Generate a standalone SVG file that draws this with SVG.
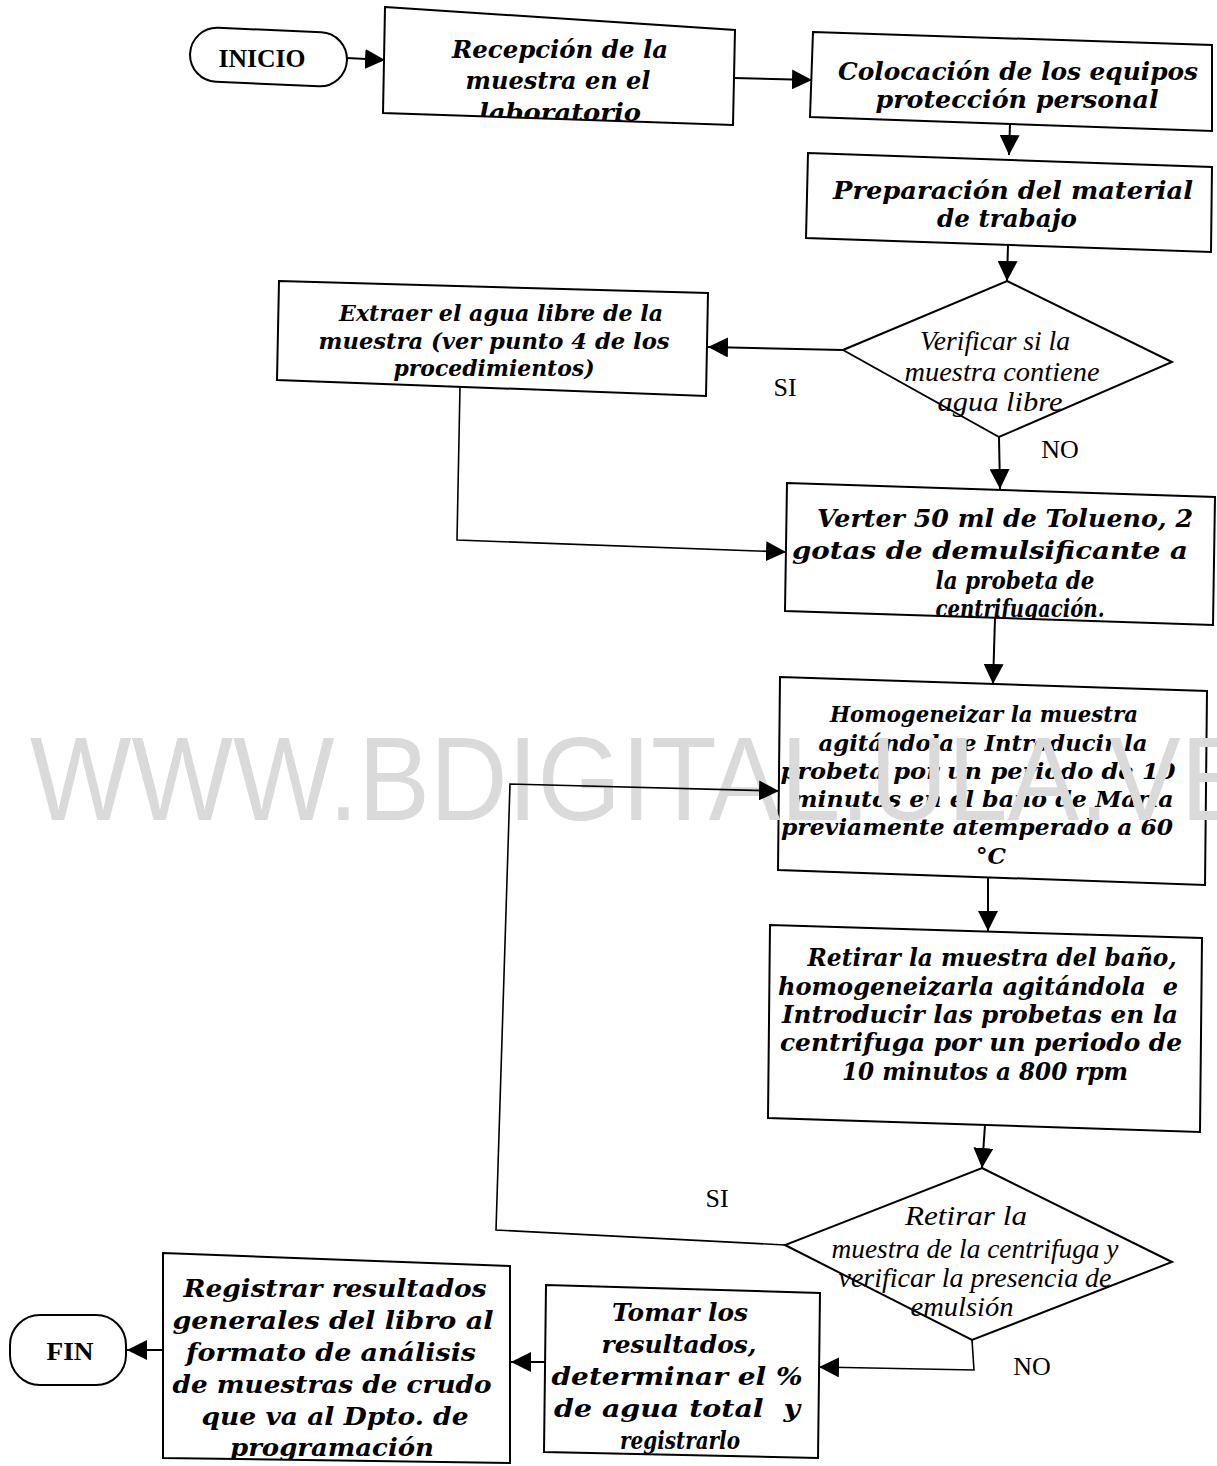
<svg xmlns="http://www.w3.org/2000/svg" width="1217" height="1466" viewBox="0 0 1217 1466">
<style>
.box{fill:#fff;stroke:#000;stroke-width:2}
.t{font-family:"DejaVu Serif","Liberation Serif",serif;font-weight:bold;font-style:italic;fill:#000;text-anchor:middle}
.d{font-family:"Liberation Serif","Times New Roman",serif;font-style:italic;fill:#000;text-anchor:middle;font-size:27px}
.lbl{font-family:"Liberation Serif","Times New Roman",serif;font-size:26px;fill:#000;text-anchor:middle}
.term{font-family:"Liberation Serif","Times New Roman",serif;font-weight:bold;font-size:26px;fill:#000;text-anchor:middle}
.c{fill:none;stroke:#000;stroke-width:2}
.thin{stroke-width:1.6}
.wm{font-family:"Liberation Sans",Arial,sans-serif;font-size:107.5px;fill:#dadada}
</style>
<defs>
<marker id="ah" markerUnits="userSpaceOnUse" markerWidth="20" markerHeight="20" refX="20" refY="10" orient="auto">
<path d="M0,0 L20,10 L0,20 Z" fill="#000"/>
</marker>
<clipPath id="cRec"><polygon points="385,7 735,30 733,125 383,113"/></clipPath>
<clipPath id="cVer"><polygon points="787,483 1215,497 1213,625 785,611"/></clipPath>
<clipPath id="cTom"><polygon points="546,1285 820,1293 818,1458 544,1452"/></clipPath>
<clipPath id="cReg"><polygon points="163,1253 510,1266 510,1463 163,1458"/></clipPath>
</defs>
<rect width="1217" height="1466" fill="#fff"/>

<g id="inicio">
<rect class="box" x="190" y="30" width="157" height="54" rx="27" transform="rotate(2.5 268 57)"/>
<text class="term" x="262" y="67" textLength="87" lengthAdjust="spacingAndGlyphs">INICIO</text>
</g>

<g id="recepcion">
<polygon class="box" points="385,7 735,30 733,125 383,113"/>
<g clip-path="url(#cRec)" font-size="24">
<text class="t" x="560" y="58" textLength="216" lengthAdjust="spacingAndGlyphs">Recepción de la</text>
<text class="t" x="558" y="89" textLength="185" lengthAdjust="spacingAndGlyphs">muestra en el</text>
<text class="t" x="560" y="121" textLength="162" lengthAdjust="spacingAndGlyphs">laboratorio</text>
</g>
</g>

<g id="colocacion" font-size="24">
<polygon class="box" points="813,32 1212,45 1212,131 810,117"/>
<text class="t" x="1018" y="80" textLength="360" lengthAdjust="spacingAndGlyphs">Colocación de los equipos</text>
<text class="t" x="1017" y="108" textLength="283" lengthAdjust="spacingAndGlyphs">protección personal</text>
</g>

<g id="preparacion" font-size="24">
<polygon class="box" points="808,153 1212,167 1211,252 806,238"/>
<text class="t" x="1013" y="199" textLength="360" lengthAdjust="spacingAndGlyphs">Preparación del material</text>
<text class="t" x="1007" y="227" textLength="140" lengthAdjust="spacingAndGlyphs">de trabajo</text>
</g>

<g id="verificar1">
<polygon class="box" points="1007,281 1172,362 999,437 843,350"/>
<text class="d" x="995" y="350" textLength="150" lengthAdjust="spacingAndGlyphs">Verificar si la</text>
<text class="d" x="1002" y="381" textLength="195" lengthAdjust="spacingAndGlyphs">muestra contiene</text>
<text class="d" x="1000" y="411" textLength="125" lengthAdjust="spacingAndGlyphs">agua libre</text>
</g>

<g id="extraer" font-size="23">
<polygon class="box" points="279,281 708,293 706,396 277,380"/>
<text class="t" x="501" y="321" textLength="324" lengthAdjust="spacingAndGlyphs">Extraer el agua libre de la</text>
<text class="t" x="494" y="349" textLength="351" lengthAdjust="spacingAndGlyphs">muestra (ver punto 4 de los</text>
<text class="t" x="494" y="376" textLength="201" lengthAdjust="spacingAndGlyphs">procedimientos)</text>
</g>

<g id="verter">
<polygon class="box" points="787,483 1215,497 1213,625 785,611"/>
<g clip-path="url(#cVer)" font-size="25">
<text class="t" x="1005" y="527" textLength="376" lengthAdjust="spacingAndGlyphs">Verter 50 ml de Tolueno, 2</text>
<text class="t" x="990" y="559" textLength="396" lengthAdjust="spacingAndGlyphs">gotas de demulsificante a</text>
<text class="t" x="1015" y="589" textLength="159" lengthAdjust="spacingAndGlyphs">la probeta de</text>
<text class="t" x="1020" y="617" textLength="169" lengthAdjust="spacingAndGlyphs">centrifugación.</text>
</g>
</g>

<g id="homogeneizar" font-size="23">
<polygon class="box" points="780,677 1207,691 1205,885 778,870"/>
<text class="t" x="984" y="722" textLength="308" lengthAdjust="spacingAndGlyphs">Homogeneizar la muestra</text>
<text class="t" x="983" y="751" textLength="329" lengthAdjust="spacingAndGlyphs">agitándola e Introducir la</text>
<text class="t" x="978" y="779" textLength="395" lengthAdjust="spacingAndGlyphs">probeta por un periodo de 10</text>
<text class="t" x="983" y="807" textLength="381" lengthAdjust="spacingAndGlyphs">minutos en el baño de María</text>
<text class="t" x="977" y="835" textLength="392" lengthAdjust="spacingAndGlyphs">previamente atemperado a 60</text>
<text class="t" x="991" y="864" textLength="30" lengthAdjust="spacingAndGlyphs">°C</text>
</g>

<g id="retirar" font-size="24">
<polygon class="box" points="770,925 1202,938 1200,1132 768,1118"/>
<text class="t" x="992" y="966" textLength="369" lengthAdjust="spacingAndGlyphs">Retirar la muestra del baño,</text>
<text class="t" x="978" y="995" textLength="400" lengthAdjust="spacingAndGlyphs">homogeneizarla agitándola&#160; e</text>
<text class="t" x="980" y="1023" textLength="396" lengthAdjust="spacingAndGlyphs">Introducir las probetas en la</text>
<text class="t" x="981" y="1051" textLength="402" lengthAdjust="spacingAndGlyphs">centrifuga por un periodo de</text>
<text class="t" x="985" y="1080" textLength="286" lengthAdjust="spacingAndGlyphs">10 minutos a 800 rpm</text>
</g>

<g id="verificar2">
<polygon class="box" points="982,1168 1172,1262 972,1340 785,1245"/>
<text class="d" x="966" y="1225" textLength="122" lengthAdjust="spacingAndGlyphs">Retirar la</text>
<text class="d" x="975" y="1258" textLength="287" lengthAdjust="spacingAndGlyphs">muestra de la centrifuga y</text>
<text class="d" x="975" y="1287" textLength="273" lengthAdjust="spacingAndGlyphs">verificar la presencia de</text>
<text class="d" x="962" y="1316" textLength="103" lengthAdjust="spacingAndGlyphs">emulsión</text>
</g>

<g id="tomar">
<polygon class="box" points="546,1285 820,1293 818,1458 544,1452"/>
<g clip-path="url(#cTom)" font-size="25">
<text class="t" x="680" y="1321" textLength="136" lengthAdjust="spacingAndGlyphs">Tomar los</text>
<text class="t" x="679" y="1353" textLength="155" lengthAdjust="spacingAndGlyphs">resultados,</text>
<text class="t" x="677" y="1385" textLength="251" lengthAdjust="spacingAndGlyphs">determinar el %</text>
<text class="t" x="677" y="1417" textLength="246" lengthAdjust="spacingAndGlyphs">de agua total&#160; y</text>
<text class="t" x="680" y="1449" textLength="120" lengthAdjust="spacingAndGlyphs">registrarlo</text>
</g>
</g>

<g id="registrar">
<polygon class="box" points="163,1253 510,1266 510,1463 163,1458"/>
<g clip-path="url(#cReg)" font-size="24">
<text class="t" x="335" y="1297" textLength="303" lengthAdjust="spacingAndGlyphs">Registrar resultados</text>
<text class="t" x="333" y="1329" textLength="321" lengthAdjust="spacingAndGlyphs">generales del libro al</text>
<text class="t" x="331" y="1361" textLength="290" lengthAdjust="spacingAndGlyphs">formato de análisis</text>
<text class="t" x="332" y="1393" textLength="319" lengthAdjust="spacingAndGlyphs">de muestras de crudo</text>
<text class="t" x="335" y="1425" textLength="267" lengthAdjust="spacingAndGlyphs">que va al Dpto. de</text>
<text class="t" x="332" y="1456" textLength="204" lengthAdjust="spacingAndGlyphs">programación</text>
</g>
</g>

<g id="fin">
<rect class="box" x="10" y="1315" width="116" height="70" rx="30"/>
<text class="term" x="70" y="1360" font-size="27" textLength="47" lengthAdjust="spacingAndGlyphs">FIN</text>
</g>

<text class="wm" transform="translate(30,820) scale(1,1.1)" x="0" y="0">WWW.BDIGITAL.ULA.VE</text>

<g id="connectors">
<path class="c" d="M347,58 L385,60" marker-end="url(#ah)"/>
<path class="c" d="M734,78 L812,80" marker-end="url(#ah)"/>
<path class="c" d="M1010,124 L1009,155" marker-end="url(#ah)"/>
<path class="c" d="M1008,245 L1007,281" marker-end="url(#ah)"/>
<path class="c" d="M843,350 L708,347" marker-end="url(#ah)"/>
<path class="c" d="M999,437 L1000,489" marker-end="url(#ah)"/>
<path class="c thin" d="M460,387 L457,540 L786,552" marker-end="url(#ah)"/>
<path class="c" d="M995,618 L993,684" marker-end="url(#ah)"/>
<path class="c" d="M988,878 L988,931" marker-end="url(#ah)"/>
<path class="c" d="M985,1125 L982,1168" marker-end="url(#ah)"/>
<path class="c thin" d="M785,1245 L496,1230 L510,784 L779,791" marker-end="url(#ah)"/>
<path class="c thin" d="M972,1340 L974,1370 L819,1367" marker-end="url(#ah)"/>
<path class="c" d="M545,1362 L511,1362" marker-end="url(#ah)"/>
<path class="c" d="M163,1350 L127,1350" marker-end="url(#ah)"/>
</g>

<g id="labels">
<text class="lbl" x="785" y="396">SI</text>
<text class="lbl" x="1060" y="458">NO</text>
<text class="lbl" x="717" y="1207">SI</text>
<text class="lbl" x="1032" y="1375">NO</text>
</g>
</svg>
